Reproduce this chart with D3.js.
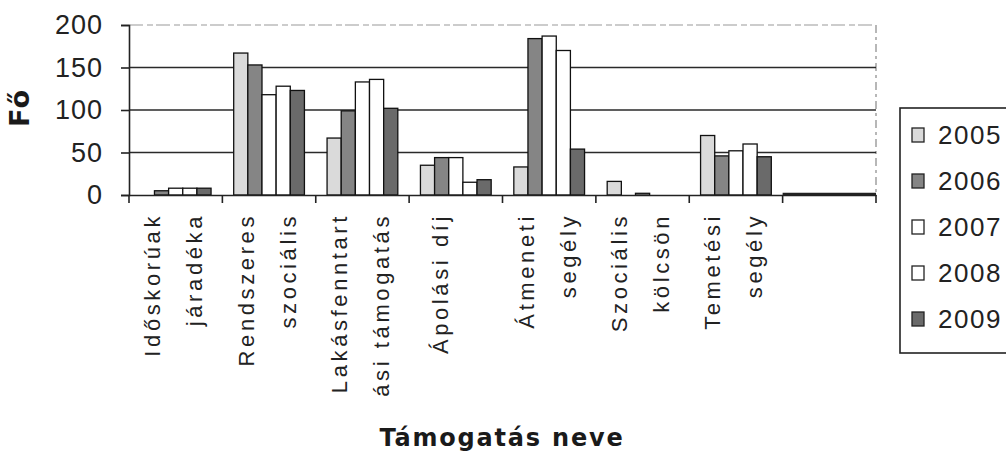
<!DOCTYPE html>
<html>
<head>
<meta charset="utf-8">
<script src="https://cdn.jsdelivr.net/npm/d3@7"></script>
<style>
body { margin: 0; background: #fff; }
svg { display: block; font-family: "Liberation Sans", Arial, sans-serif; }
</style>
</head>
<body>
<svg id="chart" width="1006" height="452"></svg>
<script>
// data
var categories = ["Időskorúak járadéka", "Rendszeres szociális", "Lakásfenntartási támogatás",
	"Ápolási díj", "Átmeneti segély", "Szociális kölcsön", "Temetési segély", ""];
var labelLines = [["Időskorúak", "járadéka"], ["Rendszeres", "szociális"], ["Lakásfenntart", "ási támogatás"],
	["Ápolási díj"], ["Átmeneti", "segély"], ["Szociális", "kölcsön"], ["Temetési", "segély"], []];
var years = ["2005", "2006", "2007", "2008", "2009"];
var v2005 = [0, 167, 67, 35, 33, 16, 70, 0];
var v2006 = [5, 153, 99, 44, 184, 0, 46, 0];
var v2007 = [8, 118, 133, 44, 187, 2, 52, 0];
var v2008 = [8, 128, 136, 15, 170, 0, 60, 0];
var v2009 = [8, 123, 102, 18, 54, 0, 45, 0];
var yTicks = [0, 50, 100, 150, 200];
var series = [v2005, v2006, v2007, v2008, v2009];
var colors = ["#dadada", "#858585", "#ffffff", "#ffffff", "#6a6a6a"];

var svg = d3.select("#chart");
var plotL = 129, plotR = 876, plotT = 25, plotB = 195;

var x0 = d3.scaleBand().domain(categories.map(function(d, i) { return i; }))
	.range([plotL, plotR]).padding(0);
var x1 = d3.scaleBand().domain(years)
	.range([0, x0.bandwidth()]).paddingInner(0).paddingOuter(0.8);
var y = d3.scaleLinear().domain([0, 200]).range([plotB, plotT]);

// plot area border (faded top / right)
svg.append("line").attr("x1", plotL).attr("x2", plotR).attr("y1", plotT).attr("y2", plotT)
	.attr("stroke", "#999").attr("stroke-width", 1.2).attr("stroke-dasharray", "14,4,6,3");
svg.append("line").attr("x1", plotR).attr("x2", plotR).attr("y1", plotT).attr("y2", plotB)
	.attr("stroke", "#888").attr("stroke-width", 1.2).attr("stroke-dasharray", "8,4,3,4");

// gridlines
svg.append("g").selectAll("line")
	.data(yTicks.filter(function(d) { return d > 0 && d < 200; }))
	.enter().append("line")
	.attr("x1", plotL).attr("x2", plotR)
	.attr("y1", function(d) { return y(d); }).attr("y2", function(d) { return y(d); })
	.attr("stroke", "#2a2a2a").attr("stroke-width", 1.6);

// bars
var groups = svg.append("g").selectAll("g")
	.data(categories)
	.enter().append("g")
	.attr("transform", function(d, i) { return "translate(" + x0(i) + ",0)"; });

groups.selectAll("rect")
	.data(function(d, i) { return years.map(function(yr, k) { return {year: yr, k: k, v: series[k][i]}; }); })
	.enter().filter(function(d) { return d.v > 0; })
	.append("rect")
	.attr("x", function(d) { return x1(d.year); })
	.attr("y", function(d) { return y(d.v); })
	.attr("width", x1.bandwidth())
	.attr("height", function(d) { return plotB - y(d.v); })
	.attr("fill", function(d) { return colors[d.k]; })
	.attr("stroke", "#111").attr("stroke-width", 1.3);

// y axis
var yAxis = svg.append("g")
	.attr("transform", "translate(" + plotL + ",0)")
	.call(d3.axisLeft(y).tickValues(yTicks).tickSize(8).tickPadding(18));
yAxis.select(".domain").attr("stroke", "#222").attr("stroke-width", 1.6);
yAxis.selectAll(".tick line").attr("stroke", "#222").attr("stroke-width", 1.6);
yAxis.selectAll("text").attr("font-size", "27px").attr("fill", "#222")
	.attr("letter-spacing", "1px");

// x axis
var xAxis = svg.append("g")
	.attr("transform", "translate(0," + plotB + ")")
	.call(d3.axisBottom(x0).tickSize(0).tickFormat(""));
xAxis.select(".domain").attr("stroke", "#222").attr("stroke-width", 1.6);
xAxis.selectAll(".tick").remove();
svg.append("g").selectAll("line")
	.data(d3.range(categories.length + 1))
	.enter().append("line")
	.attr("x1", function(i) { return plotL + i * x0.step(); })
	.attr("x2", function(i) { return plotL + i * x0.step(); })
	.attr("y1", plotB).attr("y2", plotB + 8)
	.attr("stroke", "#222").attr("stroke-width", 1.6);
// the last (empty) category's axis piece looks heavier in the scan
svg.append("line")
	.attr("x1", x0(7)).attr("x2", plotR)
	.attr("y1", plotB - 1).attr("y2", plotB - 1)
	.attr("stroke", "#222").attr("stroke-width", 2.6);

// category labels, rotated
var labs = svg.append("g");
labelLines.forEach(function(lines, i) {
	var cx = x0(i) + x0.bandwidth() / 2;
	var offs = lines.length === 2 ? [-23, 19] : [-15];
	lines.forEach(function(t, j) {
		labs.append("text")
			.attr("transform", "translate(" + (cx + offs[j]) + ",213) rotate(-90)")
			.attr("text-anchor", "end")
			.attr("dominant-baseline", "central")
			.attr("font-size", "22px")
			.attr("letter-spacing", "3.6px")
			.attr("fill", "#222")
			.text(t);
	});
});

// axis titles
svg.append("text")
	.attr("x", 502).attr("y", 446)
	.attr("text-anchor", "middle")
	.attr("font-family", "DejaVu Sans")
	.attr("font-weight", "bold")
	.attr("font-size", "24px")
	.attr("letter-spacing", "1.8px")
	.attr("fill", "#1a1a1a")
	.text("Támogatás neve");

svg.append("text")
	.attr("transform", "translate(19,108) rotate(-90)")
	.attr("text-anchor", "middle")
	.attr("dominant-baseline", "central")
	.attr("font-family", "DejaVu Sans")
	.attr("font-weight", "bold")
	.attr("font-size", "27px")
	.attr("letter-spacing", "1px")
	.attr("fill", "#1a1a1a")
	.text("Fő");

// legend
var legend = svg.append("g").attr("transform", "translate(900,108)");
legend.append("rect")
	.attr("x", 0).attr("y", 0).attr("width", 120).attr("height", 245)
	.attr("fill", "#fff").attr("stroke", "#222").attr("stroke-width", 1.6);

var items = legend.selectAll("g.item")
	.data(years)
	.enter().append("g")
	.attr("class", "item")
	.attr("transform", function(d, i) { return "translate(0," + (27 + i * 46) + ")"; });

items.append("rect")
	.attr("x", 12).attr("y", -7).attr("width", 12).attr("height", 14)
	.attr("fill", function(d, i) { return colors[i]; })
	.attr("stroke", "#222").attr("stroke-width", 1.3);

items.append("text")
	.attr("x", 38).attr("y", 0)
	.attr("dominant-baseline", "central")
	.attr("font-size", "26px")
	.attr("letter-spacing", "1.5px")
	.attr("fill", "#222")
	.text(function(d) { return d; });
</script>
</body>
</html>
